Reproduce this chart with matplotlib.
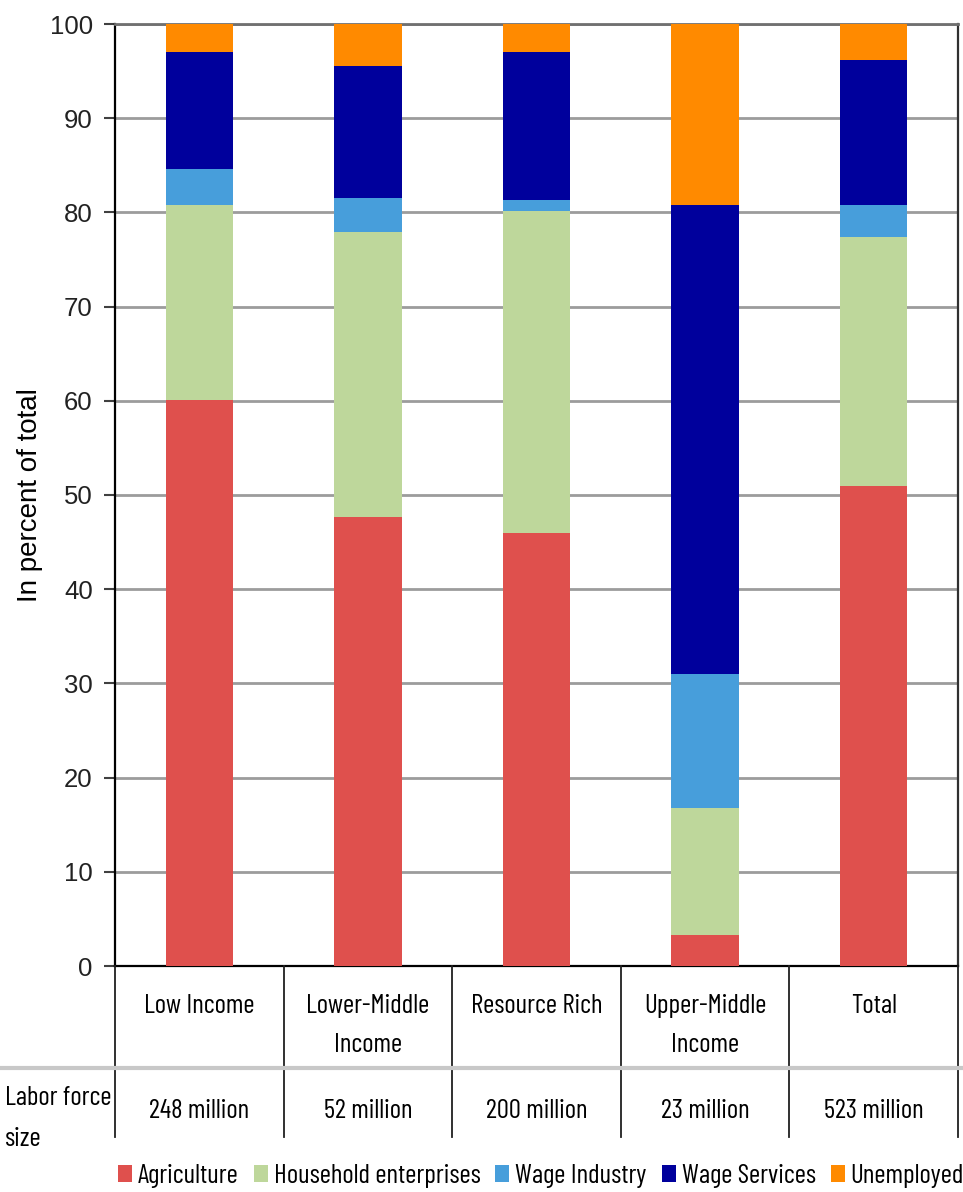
import matplotlib.pyplot as plt
from matplotlib.lines import Line2D
from matplotlib.patches import Patch
from matplotlib.transforms import blended_transform_factory
import numpy as np

# employment structure by country group, in percent of labor force
groups = ['Low Income', 'Lower-Middle\nIncome', 'Resource Rich', 'Upper-Middle\nIncome', 'Total']
labor_force = ['248 million', '52 million', '200 million', '23 million', '523 million']

agriculture = [60.1, 47.7, 46.0, 3.3, 51.0]
household = [20.7, 30.2, 34.1, 13.5, 26.4]
wage_industry = [3.8, 3.6, 1.2, 14.2, 3.4]
wage_services = [12.4, 14.0, 15.7, 49.8, 15.4]
unemployed = [3.0, 4.5, 3.0, 19.2, 3.8]

series = ['Agriculture', 'Household enterprises', 'Wage Industry', 'Wage Services', 'Unemployed']
colors = ['#df504d', '#bed79b', '#479edb', '#00009c', '#ff8a00']

narrow = ['Barlow Condensed', 'Archivo Narrow', 'Liberation Sans', 'DejaVu Sans']
regular = ['Liberation Sans', 'DejaVu Sans']
fs = 19.5

W, H = 963, 1192
fig = plt.figure(figsize=(W / 100, H / 100), dpi=100)
ax = fig.add_axes([115 / W, 1 - 966 / H, (958 - 115) / W, (966 - 24) / H])

x = np.arange(len(groups))
bottom = np.zeros(len(groups))
for name, vals, c in zip(series, [agriculture, household, wage_industry, wage_services, unemployed], colors):
    ax.bar(x, vals, 0.4, bottom=bottom, color=c, label=name, zorder=3)
    bottom += np.array(vals)

ax.set_xlim(-0.5, len(groups) - 0.5)
ax.set_ylim(0, 100)
ax.set_yticks(range(0, 101, 10))
ax.set_xticks([])
ax.yaxis.grid(True, color='#9c9c9c', lw=2.0, zorder=0)
ax.tick_params(axis='y', direction='out', length=8, width=1.5, color='#404040', pad=8)
for lab in ax.get_yticklabels():
    lab.set_family(regular)
    lab.set_fontsize(18.5)
    lab.set_color('#222222')
fig.text(30 / W, 1 - 495 / H, 'In percent of total', rotation=90, ha='center', va='center',
         family=regular, fontsize=20)

ax.spines['left'].set_linewidth(1.6)
ax.spines['bottom'].set_linewidth(1.6)
ax.spines['top'].set_color('#707070')
ax.spines['top'].set_linewidth(2)
ax.spines['right'].set_color('#303030')
ax.spines['right'].set_linewidth(1.6)

# table under the bars
tr = blended_transform_factory(ax.transData, fig.transFigure)
for xb in np.arange(-0.5, len(groups), 1.0):
    fig.add_artist(Line2D([xb, xb], [1 - 966 / H, 1 - 1137 / H], transform=tr, color='#202020', lw=1.3))
fig.add_artist(Line2D([0, 1], [1 - 1068 / H, 1 - 1068 / H], transform=fig.transFigure, color='#c8c8c8', lw=3))

for xi, g, lf in zip(x, groups, labor_force):
    ax.text(xi, 1 - 994 / H, g, transform=tr, ha='center', va='top', family=narrow,
            fontsize=fs, linespacing=1.8, multialignment='center')
    ax.text(xi, 1 - 1111 / H, lf, transform=tr, ha='center', va='center', family=narrow,
            fontsize=fs)
fig.text(5 / W, 1 - 1086 / H, 'Labor force\nsize', ha='left', va='top', family=narrow,
         fontsize=fs, linespacing=1.9)

handles = [Patch(facecolor=c, edgecolor='none') for c in colors]
fig.legend(handles, series, loc='center left', bbox_to_anchor=(118 / W, 1 - 1176 / H), ncol=5,
           frameon=False, prop={'family': narrow, 'size': fs}, handlelength=0.52,
           handleheight=0.6, handletextpad=0.22, columnspacing=0.55, borderaxespad=0,
           borderpad=0)

fig.savefig('out.png', dpi=100)
